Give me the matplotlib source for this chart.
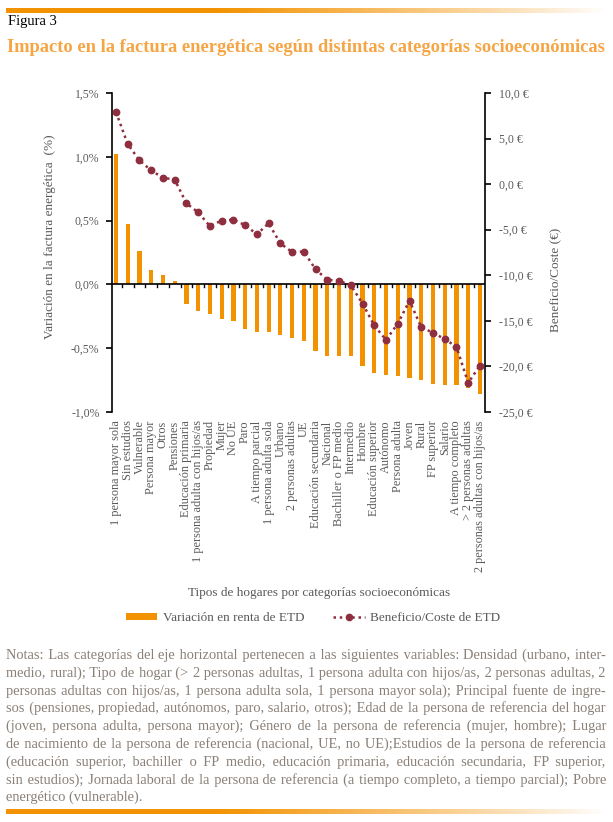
import itertools
import numpy as np
import matplotlib
matplotlib.use("Agg")
import matplotlib.pyplot as plt
from matplotlib.patches import Patch
from matplotlib.lines import Line2D

# ---------------- data ----------------
categories = [
    "1 persona mayor sola", "Sin estudios", "Vulnerable", "Persona mayor", "Otros",
    "Pensiones", "Educación primaria", "1 persona adulta con hijos/as", "Propiedad",
    "Mujer", "No UE", "Paro", "A tiempo parcial", "1 persona adulta sola", "Urbano",
    "2 personas adultas", "UE", "Educación secundaria", "Nacional",
    "Bachiller o FP medio", "Intermedio", "Hombre", "Educación superior", "Autónomo",
    "Persona adulta", "Joven", "Rural", "FP superior", "Salario",
    "A tiempo completo", "> 2 personas adultas", "2 personas adultas con hijos/as",
]
variacion_renta = [
    1.02, 0.47, 0.26, 0.115, 0.07, 0.03, -0.15, -0.21, -0.23, -0.27,
    -0.29, -0.35, -0.37, -0.375, -0.40, -0.42, -0.44, -0.52, -0.56, -0.56,
    -0.56, -0.64, -0.695, -0.71, -0.72, -0.73, -0.75, -0.78, -0.79, -0.79,
    -0.81, -0.86,
]
beneficio_coste = [
    7.9, 4.4, 2.6, 1.5, 0.7, 0.5, -2.1, -3.1, -4.6, -4.0,
    -3.9, -4.5, -5.5, -4.3, -6.5, -7.45, -7.4, -9.35, -10.5, -10.6,
    -11.1, -13.1, -15.5, -17.1, -15.3, -12.8, -15.7, -16.3, -17.0, -17.85,
    -21.8, -19.9,
]
left_ticks = [1.5, 1.0, 0.5, 0.0, -0.5, -1.0]
left_ticklabels = ["1,5%", "1,0%", "0,5%", "0,0%", "-0,5%", "-1,0%"]
right_ticks = [10, 5, 0, -5, -10, -15, -20, -25]
right_ticklabels = ["10,0 €", "5,0 €", "0,0 €", "-5,0 €", "-10,0 €", "-15,0 €", "-20,0 €", "-25,0 €"]

title_fig = "Figura 3"
title_main = "Impacto en la factura energética según distintas categorías socioeconómicas"
ylabel_left = "Variación en la factura energética  (%)"
ylabel_right = "Beneficio/Coste (€)"
xlabel = "Tipos de hogares por categorías socioeconómicas"
legend_labels = ["Variación en renta de ETD", "Beneficio/Coste de ETD"]
notes_lines = [
    "Notas: Las categorías del eje horizontal pertenecen a las siguientes variables: Densidad (urbano, inter-",
    "medio, rural); Tipo de hogar (> 2 personas adultas, 1 persona adulta con hijos/as, 2 personas adultas, 2",
    "personas adultas con hijos/as, 1 persona adulta sola, 1 persona mayor sola); Principal fuente de ingre-",
    "sos (pensiones, propiedad, autónomos, paro, salario, otros); Edad de la persona de referencia del hogar",
    "(joven, persona adulta, persona mayor); Género de la persona de referencia (mujer, hombre); Lugar",
    "de nacimiento de la persona de referencia (nacional, UE, no UE);Estudios de la persona de referencia",
    "(educación superior, bachiller o FP medio, educación primaria, educación secundaria, FP superior,",
    "sin estudios); Jornada laboral de la persona de referencia (a tiempo completo, a tiempo parcial); Pobre",
    "energético (vulnerable).",
]

# ---------------- style ----------------
SERIF = ["Liberation Serif", "DejaVu Serif"]
plt.rcParams["font.family"] = SERIF
ORANGE = "#F39200"
TITLE_ORANGE = "#F6A544"
MAROON = "#8E2E3E"
GREY = "#5a5a5a"
NOTE = "#8a8078"

W, H = 613, 822
fig = plt.figure(figsize=(W / 100, H / 100), dpi=100)

def fx(px):
    return px / W

def fy(py):
    return 1 - py / H

# gradient bars (top and bottom)
def grad_bar(y0, y1, x0=6, x1=606):
    ax_g = fig.add_axes([fx(x0), fy(y1), fx(x1) - fx(x0), fy(y0) - fy(y1)])
    n = 256
    t = np.linspace(0, 1, n)
    alpha = np.where(t < 0.35, 1.0, np.clip(1 - (t - 0.35) / 0.65, 0, 1) ** 0.9)
    rgba = np.zeros((1, n, 4))
    rgba[..., 0] = 0xF3 / 255
    rgba[..., 1] = 0x92 / 255
    rgba[..., 2] = 0x00 / 255
    rgba[..., 3] = alpha
    ax_g.imshow(rgba, aspect="auto", extent=[0, 1, 0, 1])
    ax_g.axis("off")

grad_bar(8, 13)
grad_bar(809, 814)

fig.text(fx(8), fy(25), title_fig, fontsize=10.5, color="black", va="baseline", ha="left")
fig.text(fx(7), fy(52), title_main, fontsize=13.3, color=TITLE_ORANGE, fontweight="bold",
         va="baseline", ha="left")

# ---------------- main axes ----------------
ax_left, ax_right_px, ax_top, ax_bot = 112, 485, 93, 412
ax = fig.add_axes([fx(ax_left), fy(ax_bot), fx(ax_right_px) - fx(ax_left), fy(ax_top) - fy(ax_bot)])
x = np.arange(len(categories))
ax.bar(x, variacion_renta, width=0.36, color=ORANGE, zorder=2)
ax.set_ylim(-1.0, 1.5)
ax.set_xlim(-0.34, len(categories) - 1 + 0.43)
ax.axhline(0, color="black", lw=1.2, zorder=3)
for v in x[:-1]:
    ax.plot([v + 0.5, v + 0.5], [0, -0.022], color="black", lw=1.0, zorder=3, clip_on=False)

ax.spines["top"].set_visible(False)
ax.spines["bottom"].set_visible(False)
ax.spines["right"].set_visible(False)
ax.spines["left"].set_linewidth(1.2)
ax.set_yticks(left_ticks)
ax.set_yticklabels(left_ticklabels)
ax.tick_params(axis="y", direction="out", length=4, width=1.2, colors="black", labelcolor=GREY,
               labelsize=8.5, pad=5)
ax.set_xticks(x)
ax.set_xticklabels(categories, rotation=90, fontsize=8.8, color=GREY, va="top", ha="center")
ax.tick_params(axis="x", length=0, pad=6)
ax.patch.set_alpha(0)

ax2 = ax.twinx()
ax2.set_ylim(-25, 10)
ax2.plot(x, beneficio_coste, linestyle=(0, (1, 1.5)), color=MAROON, lw=1.8,
         marker="o", markersize=4.6, markeredgecolor=MAROON, markerfacecolor=MAROON, zorder=4)
for s in ["top", "bottom", "left"]:
    ax2.spines[s].set_visible(False)
ax2.spines["right"].set_linewidth(1.2)
ax2.set_yticks(right_ticks)
ax2.set_yticklabels(right_ticklabels)
ax2.tick_params(axis="y", direction="out", length=4, width=1.2, colors="black", labelcolor=GREY,
                labelsize=8.5, pad=6)

fig.text(fx(50), fy(237), ylabel_left, rotation=90, fontsize=9.5, color=GREY, ha="center", va="center")
fig.text(fx(556), fy(280), ylabel_right, rotation=90, fontsize=9.5, color=GREY, ha="center", va="center")
fig.text(fx(319), fy(593), xlabel, fontsize=9.5, color=GREY, ha="center", va="center")

handles = [
    Patch(facecolor=ORANGE, edgecolor="none"),
    Line2D([0], [0], linestyle=(0, (1, 1.5)), color=MAROON, lw=1.8, marker="o", markersize=4.5),
]
fig.legend(handles, legend_labels, loc="center", bbox_to_anchor=(fx(313), fy(618)), ncol=2,
           frameon=False, fontsize=9.5, handlelength=2.4, handleheight=0.45, columnspacing=2.2,
           handletextpad=0.4, labelcolor=GREY)

# ---------------- justified notes (one text per line, spacing via unicode spaces) ----------------
fig.canvas.draw()
renderer = fig.canvas.get_renderer()
note_x0, note_x1 = 6, 606
note_y0, note_dy = 659, 17.8
target_w = note_x1 - note_x0

_cache = {}
def measure(s, fs):
    key = (s, fs)
    if key not in _cache:
        t = fig.text(0, 0, s, fontsize=fs)
        _cache[key] = t.get_window_extent(renderer).width
        t.remove()
    return _cache[key]

# largest font size at which every line fits with plain spaces
note_fs = 10.8
while note_fs > 8.5:
    if max(measure(l, note_fs) for l in notes_lines) <= target_w - 6:
        break
    note_fs = round(note_fs - 0.1, 2)

space_chars = [" ", "\u2009", "\u200A", "\u2006", "\u2005", "\u2004"]
base = measure("xx", note_fs)
combos = {}
for n in range(0, 3):
    for rest in itertools.combinations_with_replacement(space_chars, n):
        c = " " + "".join(rest)
        wdt = measure("x" + c + "x", note_fs) - base
        if wdt > 0.5:
            combos[c] = wdt
combo_items = sorted(combos.items(), key=lambda kv: kv[1])

for i, line in enumerate(notes_lines):
    ypx = round(note_y0 + i * note_dy)
    words = line.split(" ")
    if i == len(notes_lines) - 1 or len(words) < 2:
        fig.text(fx(note_x0), fy(ypx), line, fontsize=note_fs, color=NOTE, ha="left", va="baseline")
        continue
    ws = [measure(w_, note_fs) for w_ in words]
    g = (target_w - sum(ws)) / (len(words) - 1)
    s = words[0]
    for k in range(1, len(words)):
        target_start = sum(ws[:k]) + k * g
        need = target_start - measure(s, note_fs)
        best = min(combo_items, key=lambda kv: abs(kv[1] - need))[0]
        s = s + best + words[k]
    fig.text(fx(note_x0), fy(ypx), s, fontsize=note_fs, color=NOTE, ha="left", va="baseline")

fig.savefig("out.png", dpi=100)
